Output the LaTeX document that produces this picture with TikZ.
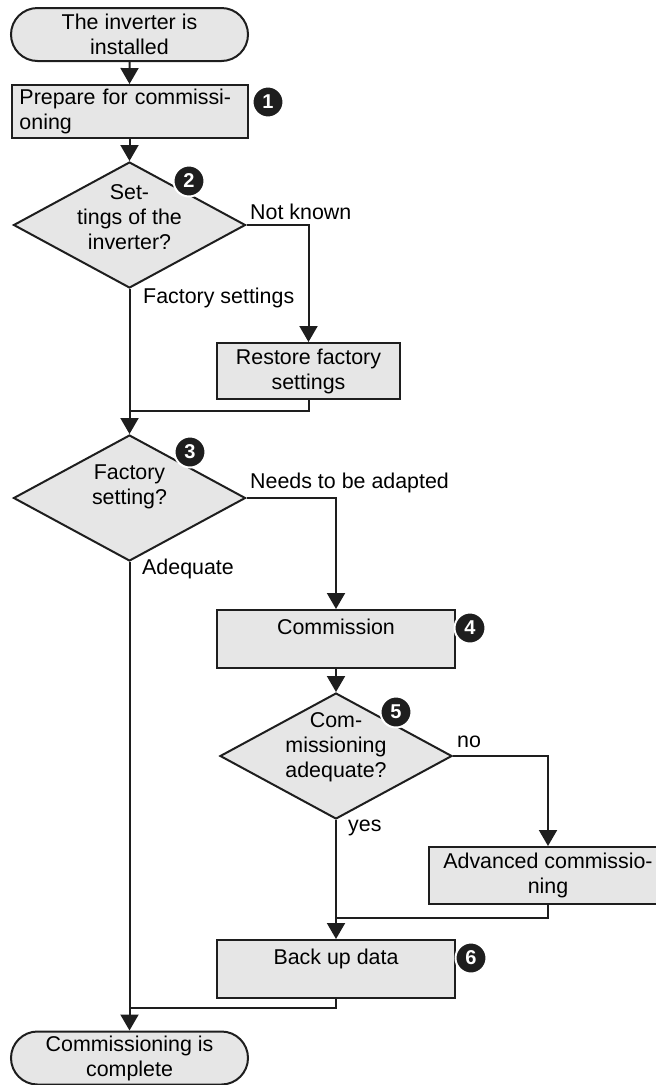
\documentclass[tikz,border=0pt]{standalone}
\usepackage{fontspec}
\setmainfont{Liberation Sans}
\usetikzlibrary{shapes.geometric,shapes.misc,arrows.meta}
\definecolor{boxfill}{RGB}{230,230,230}
\definecolor{ink}{RGB}{30,30,30}
\tikzset{
  base/.style={draw=ink, fill=boxfill, line width=2pt, font=\fontsize{21.4}{25}\selectfont},
  term/.style={base, rounded rectangle, minimum width=237pt, minimum height=53pt, inner sep=0pt, align=center},
  proc/.style={base, rectangle, minimum height=57pt, inner xsep=4pt, inner ysep=0pt, align=center},
  dia/.style={base, diamond, minimum width=232pt, minimum height=126pt, inner sep=0pt},
  diatext/.style={font=\fontsize{21.4}{25}\selectfont, align=center, inner sep=0pt},
  lbl/.style={font=\fontsize{21.4}{25}\selectfont, anchor=west, inner sep=0pt},
  badge/.style={circle, fill=ink, draw=white, line width=2pt, minimum size=31pt, inner sep=0pt, text=white, font=\bfseries\fontsize{20}{20}\selectfont},
  conn/.style={draw=ink, line width=2pt},
  arr/.style={conn, -{Triangle[width=18pt,length=16pt]}}
}
\begin{document}
\begin{tikzpicture}[x=1pt,y=-1pt]
\useasboundingbox (0,0) rectangle (656,1085);
% nodes
\node[term] (start) at (129.5,34.5) {The inverter is\\installed};
\node[proc, text width=220pt, inner xsep=8pt, minimum height=53pt, align=left] (prep) at (129.5,111.5) {Prepare for commissi-\\oning};
\node[dia] (d2) at (129.5,225) {};
\node[diatext] (d2t) at (129.5,217) {Set-\\tings of the\\inverter?};
\node[proc, minimum width=183pt, minimum height=56pt] (restore) at (308.5,371) {Restore factory\\settings};
\node[dia] (d3) at (129.5,498) {};
\node[diatext] (d3t) at (129.5,487) {Factory\\setting?};
\node[proc, minimum width=238pt, minimum height=58pt] (comm) at (336,639) {Commission\\\mbox{}};
\node[dia] (d5) at (336,756) {};
\node[diatext] (d5t) at (336,747) {Com-\\missioning\\adequate?};
\node[proc, minimum width=238pt, minimum height=57pt] (adv) at (548,875.5) {Advanced commissio-\\ning};
\node[proc, minimum width=238pt, minimum height=58pt] (backup) at (336,969) {Back up data\\\mbox{}};
\node[term] (end) at (129.5,1058) {Commissioning is\\complete};
% badges
\node[badge] (b1) at (268,102) {1};
\node[badge] (b2) at (189,181) {2};
\node[badge] (b3) at (190,452) {3};
\node[badge] (b4) at (470,628) {4};
\node[badge] (b5) at (396,712) {5};
\node[badge] (b6) at (471,958) {6};
% junction points
\coordinate (j1) at (129.5,411);
\coordinate (j2) at (336,918);
\coordinate (j3) at (129.5,1008);
% connectors
\draw[arr] (start) -- (prep);
\draw[arr] (prep) -- (d2);
\draw[arr] (d2.east) -| (restore.north);
\draw[arr] (d2.south) -- (d3.north);
\draw[conn] (restore.south) |- (j1);
\draw[arr] (d3.east) -| (comm.north);
\draw[arr] (d3.south) -- (end.north);
\draw[arr] (comm) -- (d5);
\draw[arr] (d5.east) -| (adv.north);
\draw[arr] (d5.south) -- (backup.north);
\draw[conn] (adv.south) |- (j2);
\draw[conn] (backup.south) |- (j3);
% labels
\node[lbl] (l1) at (250,212) {Not known};
\node[lbl] (l2) at (143,298) {Factory settings};
\node[lbl] (l3) at (250,483) {Needs to be adapted};
\node[lbl] (l4) at (142,569) {Adequate};
\node[lbl] (l5) at (457,742) {no};
\node[lbl] (l6) at (348,828) {yes};
\end{tikzpicture}
\end{document}
